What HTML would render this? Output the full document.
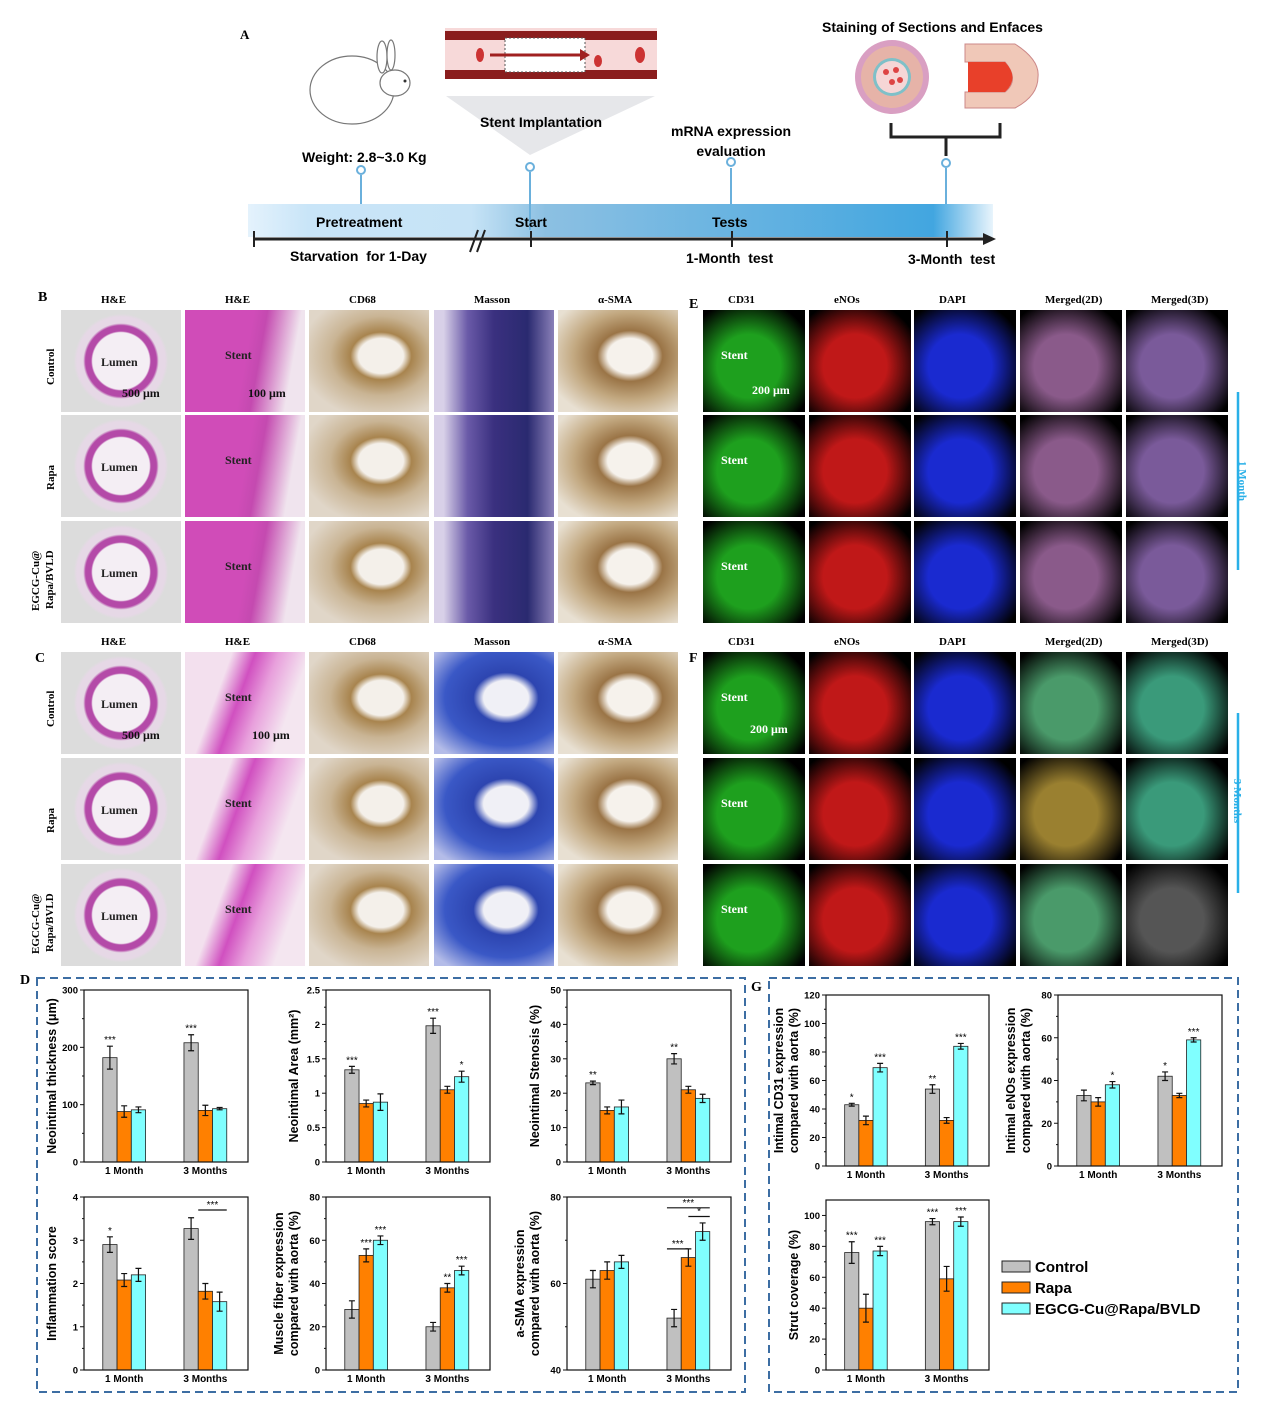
<!DOCTYPE html>
<html><head><meta charset="utf-8"><style>
body{margin:0;background:#fff;width:1270px;height:1410px;position:relative;overflow:hidden;font-family:"Liberation Sans",sans-serif}
.a{position:absolute}
.t{position:absolute;white-space:nowrap}
.ser{font-family:"Liberation Serif",serif;font-weight:bold;font-size:12px}
.tile{position:absolute;overflow:hidden}
</style></head><body>
<svg class="a" style="left:0;top:0" width="1270" height="1410">
<defs>
<linearGradient id="tl" x1="0" x2="1"><stop offset="0" stop-color="#e4f2fc"/><stop offset="0.08" stop-color="#c9e5f8"/><stop offset="0.3" stop-color="#c6e3f6"/><stop offset="0.4" stop-color="#8cc0e2"/><stop offset="0.92" stop-color="#42a6e0"/><stop offset="1" stop-color="#e8f4fc"/></linearGradient>
</defs>
<g>
<rect x="248" y="204" width="745" height="33" fill="url(#tl)"/>
<line x1="253" y1="239" x2="985" y2="239" stroke="#222" stroke-width="3"/>
<polygon points="983,233 996,239 983,245" fill="#222"/>
<line x1="254" y1="231" x2="254" y2="247" stroke="#222" stroke-width="2"/>
<line x1="531" y1="231" x2="531" y2="247" stroke="#222" stroke-width="2"/>
<line x1="732" y1="231" x2="732" y2="247" stroke="#222" stroke-width="2"/>
<line x1="947" y1="231" x2="947" y2="247" stroke="#222" stroke-width="2"/>
<line x1="470" y1="252" x2="478" y2="230" stroke="#222" stroke-width="2"/><line x1="477" y1="252" x2="485" y2="230" stroke="#222" stroke-width="2"/>
<g stroke="#6ab0dc" stroke-width="2" fill="#fff">
<line x1="361" y1="175" x2="361" y2="204"/><circle cx="361" cy="170" r="4"/>
<line x1="530" y1="172" x2="530" y2="230"/><circle cx="530" cy="167" r="4"/>
<line x1="731" y1="168" x2="731" y2="204"/><circle cx="731" cy="162" r="4"/>
<line x1="946" y1="168" x2="946" y2="204"/><circle cx="946" cy="163" r="4"/>
</g>
<polygon points="446,96 655,96 530,155" fill="#e6e7ea"/>
<rect x="445" y="28" width="212" height="48" fill="#f7d9d9"/>
<rect x="445" y="31" width="212" height="9" fill="#8a1d1d"/>
<rect x="445" y="70" width="212" height="9" fill="#8a1d1d"/>
<rect x="505" y="38" width="80" height="34" fill="#fff" stroke="#555" stroke-dasharray="2 2"/>
<line x1="490" y1="55" x2="580" y2="55" stroke="#a02020" stroke-width="3"/><polygon points="580,49 590,55 580,61" fill="#a02020"/>
<ellipse cx="480" cy="55" rx="4" ry="7" fill="#c33"/><ellipse cx="598" cy="61" rx="4" ry="6" fill="#c33"/><ellipse cx="640" cy="55" rx="5" ry="8" fill="#c33"/>
<g fill="#fff" stroke="#777" stroke-width="1.2">
<ellipse cx="352" cy="90" rx="42" ry="34"/><ellipse cx="395" cy="83" rx="15" ry="13"/>
<ellipse cx="382" cy="57" rx="5" ry="16"/><ellipse cx="391" cy="55" rx="4" ry="15"/>
</g>
<circle cx="405" cy="81" r="1.5" fill="#333"/>
<circle cx="892" cy="77" r="37" fill="#d99fc2"/><circle cx="892" cy="77" r="31" fill="#e6b3a8"/><circle cx="892" cy="77" r="19" fill="#7fc0c8"/><circle cx="892" cy="77" r="16" fill="#f6d6d6"/>
<circle cx="886" cy="72" r="3" fill="#d44"/><circle cx="896" cy="70" r="3" fill="#d44"/><circle cx="892" cy="82" r="3" fill="#d44"/><circle cx="900" cy="80" r="3" fill="#d44"/>
<path d="M965,44 L1015,44 Q1040,60 1038,77 Q1038,96 1015,108 L965,108 L965,92 L1005,92 Q1020,80 1005,62 L965,62 Z" fill="#f0c8b8" stroke="#c88" />
<path d="M968,62 L1005,62 Q1020,78 1005,92 L968,92 Z" fill="#e8402a"/>
<path d="M891,123 L891,137 L1000,137 L1000,123 M946,137 L946,156" fill="none" stroke="#222" stroke-width="3"/>
</g>
<g id="charts"></g>
<rect x="37" y="978" width="708" height="414" fill="none" stroke="#3d6ea3" stroke-width="2" stroke-dasharray="8 5"/>
<rect x="769" y="978" width="469" height="414" fill="none" stroke="#3d6ea3" stroke-width="2" stroke-dasharray="8 5"/>
<line x1="1238" y1="392" x2="1238" y2="570" stroke="#29b0e8" stroke-width="2.5"/>
<line x1="1238" y1="713" x2="1238" y2="893" stroke="#29b0e8" stroke-width="2.5"/>
</svg>
<div class="t ser" style="left:240px;top:27px;font-size:13px">A</div>
<div class="t" style="left:302px;top:149px;font-size:14px;font-weight:bold">Weight: 2.8~3.0 Kg</div>
<div class="t" style="left:480px;top:114px;font-size:14px;font-weight:bold">Stent Implantation</div>
<div class="t" style="left:671px;top:121px;font-size:14px;font-weight:bold;text-align:center;line-height:20px">mRNA expression<br>evaluation</div>
<div class="t" style="left:822px;top:19px;font-size:14px;font-weight:bold">Staining of Sections and Enfaces</div>
<div class="t" style="left:316px;top:214px;font-size:14px;font-weight:bold">Pretreatment</div>
<div class="t" style="left:515px;top:214px;font-size:14px;font-weight:bold">Start</div>
<div class="t" style="left:712px;top:214px;font-size:14px;font-weight:bold">Tests</div>
<div class="t" style="left:290px;top:248px;font-size:14px;font-weight:bold">Starvation &nbsp;for 1-Day</div>
<div class="t" style="left:686px;top:250px;font-size:14px;font-weight:bold">1-Month &nbsp;test</div>
<div class="t" style="left:908px;top:251px;font-size:14px;font-weight:bold">3-Month &nbsp;test</div>
<div class="t ser" style="left:38px;top:290px;font-size:14px">B</div>
<div class="t ser" style="left:35px;top:651px;font-size:14px">C</div>
<div class="t ser" style="left:689px;top:297px;font-size:14px">E</div>
<div class="t ser" style="left:689px;top:651px;font-size:14px">F</div>
<div class="t ser" style="left:20px;top:973px;font-size:14px">D</div>
<div class="t ser" style="left:751px;top:980px;font-size:14px">G</div>
<div class="t ser" style="left:1222px;top:475px;font-size:11px;color:#29b0e8;transform:rotate(90deg)">1 Month</div>
<div class="t ser" style="left:1215px;top:795px;font-size:11px;color:#29b0e8;transform:rotate(90deg)">3 Months</div>
<div id="tiles"></div>
<script>
// ---------- microscopy tiles ----------
var tilesEl=document.getElementById('tiles');
var colXB=[61,185,309,434,558], colW=120;
var colXE=[703,809,914,1020,1126], colWE=102;
var rowsB=[310,415,521], rowsC=[652,758,864], rowH=102;
var headB=['H&E','H&E','CD68','Masson','α-SMA'];
var headE=['CD31','eNOs','DAPI','Merged(2D)','Merged(3D)'];
var rowNames=['Control','Rapa','EGCG-Cu@ Rapa/BVLD'];
function bgB(c,r,late){
 if(c===0) return 'radial-gradient(circle at 50% 50%, #f4eef4 0 36%, #b44aa8 38% 45%, #e6d8e6 48% 56%, #dcdcdc 60%)';
 if(c===1) return late?'linear-gradient(110deg,#f3e0ee 0 30%,#d050c0 45%,#e8a0dc 60%,#f4e6f0 80%)':'linear-gradient(100deg,#d04cb8 0 50%,#c44ab0 60%,#f0e4ee 85%)';
 if(c===2) return 'radial-gradient(ellipse at 60% 45%, #f4f0ea 0 22%, #a8844e 30%, #c9b494 50%, #e0d6c8 80%)';
 if(c===3) return late?'radial-gradient(ellipse at 60% 45%, #f0f0f6 0 22%, #2d45b0 32%, #3a58c6 60%, #b4bce8 90%)':'linear-gradient(90deg,#d8d0e8 0 8%,#6a5aa8 28%,#3a307f 50%,#2a2a70 78%,#8a80b8 100%)';
 return 'radial-gradient(ellipse at 60% 45%, #f6f2ec 0 22%, #9a7446 32%, #c2a880 55%, #e8e0d2 85%)';
}
function bgE(c,r,late){
 var k=['#1ea01e','#c01818','#1a2ad0','#8a5a8a','#7a5a9a'];
 var col=k[c];
 if(c===3&&late) col= r===1?'#9a8030':'#4a9a6a';
 if(c===4&&late) col= r===2?'#555':'#3a9a7a';
 return 'radial-gradient(ellipse at 45% 55%, '+col+' 0 40%, #000 85%)';
}
function mk(x,y,w,h,bg,name){
 var d=document.createElement('div');d.className='tile';
 d.style.left=x+'px';d.style.top=y+'px';d.style.width=w+'px';d.style.height=h+'px';d.style.background=bg;
 
 
 tilesEl.appendChild(d);return d;
}
function label(x,y,txt,size,color,name,rot){
 var d=document.createElement('div');d.className='t ser';
 d.style.left=x+'px';d.style.top=y+'px';d.style.fontSize=size+'px';d.style.color=color;
 if(rot){d.style.transform='rotate(-90deg)';d.style.transformOrigin='0 0';}
 d.innerHTML=txt;
 
 
 tilesEl.appendChild(d);
}
[[rowsB,false,301],[rowsC,true,643]].forEach(function(p,pi){
 headB.forEach(function(h,c){label(colXB[c]+40,p[2]-7,h,11,'#000','header-'+h.toLowerCase());});
 headE.forEach(function(h,c){label(colXE[c]+25,p[2]-7,h,11,'#000','header-'+h.toLowerCase());});
 p[0].forEach(function(y,r){
  colXB.forEach(function(x,c){mk(x,y,colW,rowH,bgB(c,r,p[1]),'histology-'+c+'-'+r);});
  colXE.forEach(function(x,c){mk(x,y,colWE,rowH,bgE(c,r,p[1]),'fluorescence-'+c+'-'+r);});
  label(colXB[0]+40,y+45,'Lumen',12,'#222','lumen-label');
  label(colXB[1]+40,y+38,'Stent',12,'#222','stent-label');
  label(colXE[0]+18,y+38,'Stent',12,'#fff','stent-label-fluor');
  var rn=rowNames[r].split(' ');
  label(r===2?30:45,y+75+(r===2?15:0),rn[0],11,'#000','row-label-'+r,true);
  if(rn[1]) label(44,y+88,rn[1],11,'#000','row-label-'+r+'b',true);
 });
});
label(122,386,'500 μm',12,'#111','scale-500');label(248,386,'100 μm',12,'#111','scale-100');
label(752,383,'200 μm',12,'#fff','scale-200');
label(122,728,'500 μm',12,'#111','scale-500b');label(252,728,'100 μm',12,'#111','scale-100b');
label(750,722,'200 μm',12,'#fff','scale-200b');

// ---------- charts ----------
var groups=['1 Month','3 Months'];
var colors=['#c0c0c0','#ff8000','#80ffff'];
var thickVals=[[182,88,91],[208,90,93]], thickErr=[[20,10,5],[14,9,2]], thickSig=[['***','',''],['***','','']], thickTicks=[0,100,200,300];
var areaVals=[[1.34,0.85,0.87],[1.98,1.05,1.24]], areaErr=[[0.05,0.05,0.12],[0.11,0.05,0.08]], areaSig=[['***','',''],['***','','*']], areaTicks=[0,0.5,1.0,1.5,2.0,2.5];
var stenVals=[[23,15,16],[30,21,18.5]], stenErr=[[0.5,1,2],[1.5,1,1.2]], stenSig=[['**','',''],['**','','']], stenTicks=[0,10,20,30,40,50];
var inflVals=[[2.9,2.08,2.2],[3.27,1.82,1.58]], inflErr=[[0.18,0.15,0.15],[0.25,0.18,0.22]], inflSig=[['*','',''],['','','']], inflTicks=[0,1,2,3,4];
var musVals=[[28,53,60],[20,38,46]], musErr=[[4,3,2],[2,2,2]], musSig=[['','***','***'],['','**','***']], musTicks=[0,20,40,60,80];
var smaVals=[[61,63,65],[52,66,72]], smaErr=[[2,2,1.5],[2,2,2]], smaSig=[['','',''],['','','']], smaTicks=[40,60,80];
var cd31Vals=[[43,32,69],[54,32,84]], cd31Err=[[1,3,3],[3,2,2]], cd31Sig=[['*','','***'],['**','','***']], cd31Ticks=[0,20,40,60,80,100,120];
var enosVals=[[33,30,38],[42,33,59]], enosErr=[[2.5,2,1.5],[2,1,1]], enosSig=[['','','*'],['*','','***']], enosTicks=[0,20,40,60,80];
var strutVals=[[76,40,77],[96,59,96]], strutErr=[[7,9,3],[2,8,3]], strutSig=[['***','','***'],['***','','***']], strutTicks=[0,20,40,60,80,100];

var NS='http://www.w3.org/2000/svg', G=document.getElementById('charts');
function el(tag,attrs,parent,text){var e=document.createElementNS(NS,tag);for(var k in attrs)e.setAttribute(k,attrs[k]);if(text!==undefined)e.textContent=text;(parent||G).appendChild(e);return e;}
function chart(name,box,ymin,ymax,ticks,vals,errs,sigs,title){
 var g=el('g',{});
 
 
 var x0=box[0],x1=box[1],y0=box[2],y1=box[3];
 function Y(v){return y1-(v-ymin)/(ymax-ymin)*(y1-y0);}
 var bw=(x1-x0)*0.087, gc=[0.245,0.74];
 vals.forEach(function(gv,gi){
  var cx=x0+(x1-x0)*gc[gi];
  gv.forEach(function(v,bi){
   var bx=cx+(bi-1.5)*bw;
   var r=el('rect',{x:bx,y:Y(v),width:bw,height:Y(ymin)-Y(v),fill:colors[bi],stroke:'#222','stroke-width':0.8},g);
   
   
   var e=errs[gi][bi],mx=bx+bw/2;
   el('path',{d:'M'+mx+','+Y(v-e)+'V'+Y(v+e)+'M'+(mx-3)+','+Y(v-e)+'h6M'+(mx-3)+','+Y(v+e)+'h6',stroke:'#111','stroke-width':1.2,fill:'none'},g);
   if(sigs[gi][bi]) el('text',{x:mx,y:Y(v+e)-3,'text-anchor':'middle','font-size':10,'font-family':'Liberation Sans'},g,sigs[gi][bi]);
  });
  el('text',{x:cx,y:y1+12,'text-anchor':'middle','font-size':10,'font-weight':'bold','font-family':'Liberation Sans'},g,groups[gi]);
 });
 el('rect',{x:x0,y:y0,width:x1-x0,height:y1-y0,fill:'none',stroke:'#111','stroke-width':1.2},g);
 ticks.forEach(function(tv,i){
  el('line',{x1:x0,x2:x0-4,y1:Y(tv),y2:Y(tv),stroke:'#111'},g);
  if(i<ticks.length-1){var mv=(tv+ticks[i+1])/2;el('line',{x1:x0,x2:x0-2,y1:Y(mv),y2:Y(mv),stroke:'#111'},g);}
  el('text',{x:x0-6,y:Y(tv)+3.5,'text-anchor':'end','font-size':9.5,'font-weight':'bold','font-family':'Liberation Sans'},g,String(tv));
 });
 var ty=(y0+y1)/2;
 title.forEach(function(line,li){
  var tx=x0-28-(title.length-1-li)*15;
  el('text',{x:tx,y:ty,transform:'rotate(-90 '+tx+' '+ty+')','text-anchor':'middle','font-size':12.5,'font-weight':'bold','font-family':'Liberation Sans'},g,line);
 });
 return {g:g,Y:Y,x0:x0,x1:x1,bw:bw,gc:gc};
}
chart('thickness-chart',[84,248,990,1162],0,300,thickTicks,thickVals,thickErr,thickSig,['Neointimal thickness (μm)']);
chart('area-chart',[326,490,990,1162],0,2.5,areaTicks,areaVals,areaErr,areaSig,['Neointimal Area (mm²)']);
chart('stenosis-chart',[567,731,990,1162],0,50,stenTicks,stenVals,stenErr,stenSig,['Neointimal Stenosis (%)']);
var inf=chart('inflammation-chart',[84,248,1197,1370],0,4,inflTicks,inflVals,inflErr,inflSig,['Inflammation score']);
chart('muscle-fiber-chart',[326,490,1197,1370],0,80,musTicks,musVals,musErr,musSig,['Muscle fiber expression','compared with aorta (%)']);
var sma=chart('sma-chart',[567,731,1197,1370],40,80,smaTicks,smaVals,smaErr,smaSig,['a-SMA expression','compared with aorta (%)']);
chart('cd31-chart',[826,989,995,1166],0,120,cd31Ticks,cd31Vals,cd31Err,cd31Sig,['Intimal CD31 expression','compared with aorta (%)']);
chart('enos-chart',[1058,1222,995,1166],0,80,enosTicks,enosVals,enosErr,enosSig,['Intimal eNOs expression','compared with aorta (%)']);
chart('strut-chart',[826,989,1200,1370],0,110,strutTicks,strutVals,strutErr,strutSig,['Strut coverage (%)']);
function bracket(c,y,xa,xb,s){el('line',{x1:xa,x2:xb,y1:y,y2:y,stroke:'#111','stroke-width':1.2},c.g);el('text',{x:(xa+xb)/2,y:y-2,'text-anchor':'middle','font-size':10},c.g,s);}
var ic=inf.x0+(inf.x1-inf.x0)*inf.gc[1];
bracket(inf,inf.Y(3.7),ic-inf.bw*0.5,ic+inf.bw*1.5,'***');
var sc=sma.x0+(sma.x1-sma.x0)*sma.gc[1];
bracket(sma,sma.Y(77.5),sc-sma.bw*1.5,sc+sma.bw*1.5,'***');
bracket(sma,sma.Y(75.5),sc,sc+sma.bw*1.5,'*');
bracket(sma,sma.Y(68),sc-sma.bw*1.5,sc,'***');
var legNames=['Control','Rapa','EGCG-Cu@Rapa/BVLD'];
legNames.forEach(function(n,i){
 var lg=el('g',{});
 
 
 el('rect',{x:1002,y:1261+i*21,width:28,height:11,fill:colors[i],stroke:'#222'},lg);
 el('text',{x:1035,y:1272+i*21,'font-size':15,'font-weight':'bold','font-family':'Liberation Sans'},lg,n);
});
</script>
</body></html>
